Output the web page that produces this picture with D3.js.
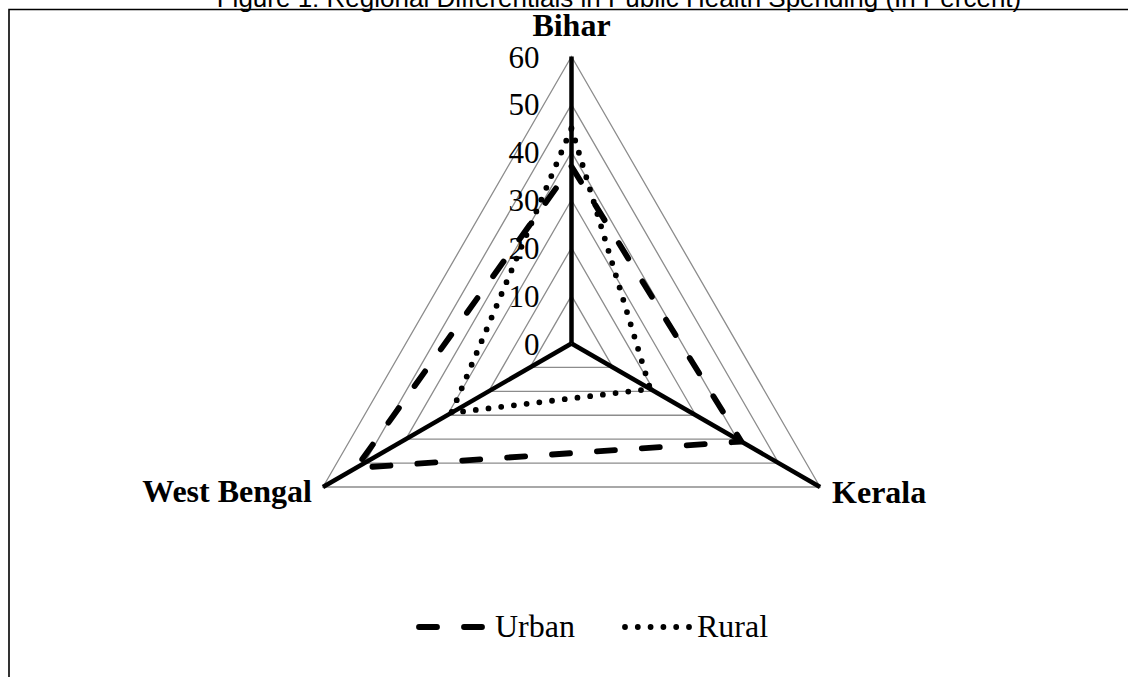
<!DOCTYPE html>
<html>
<head>
<meta charset="utf-8">
<script src="https://cdn.jsdelivr.net/npm/d3@7"></script>
<style>
    html, body { margin: 0; padding: 0; background: #fff; }
    svg { display: block; }
</style>
</head>
<body>
<svg id="chart" width="1128" height="677"></svg>
<script>
// datos del grafico
const categories = ["Bihar", "Kerala", "West Bengal"];
const urbanValues = [37, 41, 52];
const ruralValues = [45, 19, 29];
const tickValues = [0, 10, 20, 30, 40, 50, 60];
const seriesNames = ["Urban", "Rural"];

let width = 1128,
    height = 677;
let cx = 571.5,
    cy = 343.5,
    radius = 287;

let svg = d3.select("#chart");

let r = d3.scaleLinear().domain([0, 60]).range([0, radius]);
let angle = d3.scaleLinear().domain([0, categories.length]).range([0, 2 * Math.PI]);

function point(i, v) {
    let a = angle(i);
    return [cx + r(v) * Math.sin(a), cy - r(v) * Math.cos(a)];
}

// marco
svg.append("path")
    .attr("d", "M9," + height + "V9.5H" + width)
    .attr("fill", "none")
    .attr("stroke", "#000")
    .attr("stroke-width", 1.6);

// titulo (cortado arriba)
svg.append("text")
    .attr("x", 619)
    .attr("y", 7)
    .attr("text-anchor", "middle")
    .attr("font-family", "'Liberation Sans', Arial, sans-serif")
    .attr("font-size", 26)
    .attr("fill", "#000")
    .text("Figure 1: Regional Differentials in Public Health Spending (In Percent)");

let g = svg.append("g");

// grid triangular
let radial = d3.lineRadial()
    .angle((d, i) => angle(i))
    .radius(d => r(d))
    .curve(d3.curveLinearClosed);

g.selectAll(".grid")
    .data(tickValues.filter(t => t > 0))
    .join("path")
    .attr("class", "grid")
    .attr("transform", "translate(" + cx + "," + cy + ")")
    .attr("d", t => radial(categories.map(() => t)))
    .attr("fill", "none")
    .attr("stroke", "#8c8c8c")
    .attr("stroke-width", 1.3);

// ejes
g.selectAll(".spoke")
    .data(categories)
    .join("line")
    .attr("class", "spoke")
    .attr("x1", cx)
    .attr("y1", cy)
    .attr("x2", (d, i) => point(i, 60)[0])
    .attr("y2", (d, i) => point(i, 60)[1])
    .attr("stroke", "#000")
    .attr("stroke-width", 4.5);

// series
let series = [
    {name: seriesNames[0], values: urbanValues, dash: "18,27"},
    {name: seriesNames[1], values: ruralValues, dash: "0,12.8"}
];

g.selectAll(".serie")
    .data(series)
    .join("path")
    .attr("class", "serie")
    .attr("transform", "translate(" + cx + "," + cy + ")")
    .attr("d", s => radial(s.values))
    .attr("fill", "none")
    .attr("stroke", "#000")
    .attr("stroke-width", 5.8)
    .attr("stroke-linecap", "round")
    .attr("stroke-linejoin", "round")
    .attr("stroke-dasharray", s => s.dash);

// etiquetas de ticks
g.selectAll(".tick")
    .data(tickValues)
    .join("text")
    .attr("class", "tick")
    .attr("x", cx - 32)
    .attr("y", t => cy - r(t) + 11)
    .attr("text-anchor", "end")
    .attr("font-family", "'Liberation Serif', 'Times New Roman', serif")
    .attr("font-size", 31)
    .attr("fill", "#000")
    .text(t => t);

// nombres de categorias
let labelOffsets = [
    {dx: 0, dy: -21, anchor: "middle"},
    {dx: 12, dy: 16, anchor: "start"},
    {dx: -11, dy: 15, anchor: "end"}
];

g.selectAll(".cat")
    .data(categories)
    .join("text")
    .attr("class", "cat")
    .attr("x", (d, i) => point(i, 60)[0] + labelOffsets[i].dx)
    .attr("y", (d, i) => point(i, 60)[1] + labelOffsets[i].dy)
    .attr("text-anchor", (d, i) => labelOffsets[i].anchor)
    .attr("font-family", "'Liberation Serif', 'Times New Roman', serif")
    .attr("font-weight", "bold")
    .attr("font-size", 32)
    .attr("fill", "#000")
    .text(d => d);

// leyenda
let legendY = 627;
let legendItems = [
    {x1: 419, x2: 482, tx: 495},
    {x1: 625, x2: 690, tx: 697}
];

let legend = svg.append("g").attr("class", "legend");
series.forEach((s, i) => {
    let it = legendItems[i];
    legend.append("line")
        .attr("x1", it.x1)
        .attr("x2", it.x2)
        .attr("y1", legendY)
        .attr("y2", legendY)
        .attr("stroke", "#000")
        .attr("stroke-width", 5.8)
        .attr("stroke-linecap", "round")
        .attr("stroke-dasharray", s.dash);
    legend.append("text")
        .attr("x", it.tx)
        .attr("y", legendY + 10)
        .attr("font-family", "'Liberation Serif', 'Times New Roman', serif")
        .attr("font-size", 32)
        .attr("fill", "#000")
        .text(s.name);
});
</script>
</body>
</html>
